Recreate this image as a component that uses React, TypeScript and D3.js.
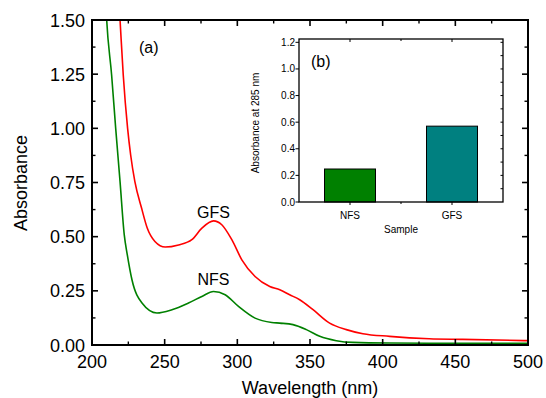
import React from 'react';
import * as d3 from 'd3';

// GFS / NFS absorbance spectra
const gfsWavelength = [218, 219.3, 221.5, 224.5, 226.6, 229.5, 234.1, 238, 243.3, 250.4, 259.6, 268.7, 275.6, 283.6, 289.3, 296.2, 303.1, 312.2, 322.3, 329.2, 336, 342.9, 352.1, 363.5, 375, 386.4, 404.8, 432, 455, 500];
const gfsAbsorbance = [1.65, 1.5, 1.246, 1.0, 0.877, 0.754, 0.632, 0.54, 0.478, 0.452, 0.462, 0.486, 0.539, 0.573, 0.555, 0.486, 0.393, 0.316, 0.27, 0.255, 0.232, 0.209, 0.163, 0.101, 0.071, 0.052, 0.04, 0.029, 0.026, 0.02];

const nfsWavelength = [209, 210.1, 213.5, 216.3, 219.3, 222.2, 224.3, 227.5, 234.4, 244.7, 255, 266.4, 275.6, 283.6, 291.6, 300.8, 312.2, 323.7, 329.2, 338.3, 347.5, 356.7, 368.1, 379.5, 404.8, 450, 500];
const nfsAbsorbance = [1.65, 1.5, 1.246, 1.0, 0.754, 0.508, 0.416, 0.301, 0.194, 0.148, 0.163, 0.194, 0.224, 0.247, 0.232, 0.178, 0.124, 0.104, 0.101, 0.094, 0.071, 0.04, 0.02, 0.012, 0.009, 0.008, 0.008];

const xTicks = [200, 250, 300, 350, 400, 450, 500];
const yTicks = [0, 0.25, 0.5, 0.75, 1.0, 1.25, 1.5];

// inset (b)
const samples = ['NFS', 'GFS'];
const at285 = [0.248, 0.57];
const sampleColors = ['#008000', '#008080'];
const insetTicks = [0, 0.2, 0.4, 0.6, 0.8, 1.0, 1.2];

const font = 'Arial, "Liberation Sans", sans-serif';

export default function App() {
  const x = d3.scaleLinear().domain([200, 500]).range([92, 528]);
  const y = d3.scaleLinear().domain([0, 1.5]).range([345, 20]);

  const line = d3.line<[number, number]>()
    .x(d => x(d[0]))
    .y(d => y(d[1]))
    .curve(d3.curveMonotoneX);

  const gfs = gfsWavelength.map((w, i) => [w, gfsAbsorbance[i]] as [number, number]);
  const nfs = nfsWavelength.map((w, i) => [w, nfsAbsorbance[i]] as [number, number]);

  const xMinor = d3.range(225, 500, 50);
  const yMinor = d3.range(0.125, 1.5, 0.25);

  // inset scales
  const ix = d3.scaleBand().domain(samples).range([299, 503]).paddingInner(0.5).paddingOuter(0.25);
  const iy = d3.scaleLinear().domain([0, 1.225]).range([202, 39]);
  const ixMid = (ix('NFS')! + ix('GFS')! + ix.bandwidth()) / 2;
  const iMinor = d3.range(0.1, 1.21, 0.1);

  return (
    <svg width={546} height={398} style={{ position: 'absolute', left: 0, top: 0, background: '#fff' }} fontFamily={font}>
      <defs>
        <clipPath id="plot">
          <rect x={92} y={20} width={436} height={325} />
        </clipPath>
      </defs>

      <g clipPath="url(#plot)" fill="none" strokeWidth={1.6}>
        <path d={line(gfs)!} stroke="#ff0000" />
        <path d={line(nfs)!} stroke="#008000" />
      </g>

      {/* main frame */}
      <rect x={92} y={20} width={436} height={325} fill="none" stroke="#000" strokeWidth={2} />

      {xTicks.map(t => (
        <g key={'x' + t}>
          <line x1={x(t)} x2={x(t)} y1={345} y2={339} stroke="#000" strokeWidth={1.6} />
          <line x1={x(t)} x2={x(t)} y1={20} y2={26} stroke="#000" strokeWidth={1.6} />
          <text x={x(t)} y={368} textAnchor="middle" fontSize={18}>{t}</text>
        </g>
      ))}
      {xMinor.map(t => (
        <g key={'xm' + t}>
          <line x1={x(t)} x2={x(t)} y1={345} y2={341.5} stroke="#000" strokeWidth={1.4} />
          <line x1={x(t)} x2={x(t)} y1={20} y2={23.5} stroke="#000" strokeWidth={1.4} />
        </g>
      ))}
      {yTicks.map(t => (
        <g key={'y' + t}>
          <line x1={92} x2={98} y1={y(t)} y2={y(t)} stroke="#000" strokeWidth={1.6} />
          <line x1={528} x2={522} y1={y(t)} y2={y(t)} stroke="#000" strokeWidth={1.6} />
          <text x={85} y={y(t) + 6.5} textAnchor="end" fontSize={18}>{t.toFixed(2)}</text>
        </g>
      ))}
      {yMinor.map(t => (
        <g key={'ym' + t}>
          <line x1={92} x2={95.5} y1={y(t)} y2={y(t)} stroke="#000" strokeWidth={1.4} />
          <line x1={528} x2={524.5} y1={y(t)} y2={y(t)} stroke="#000" strokeWidth={1.4} />
        </g>
      ))}

      <text x={310} y={394} textAnchor="middle" fontSize={18}>Wavelength (nm)</text>
      <text transform="translate(27,183) rotate(-90)" textAnchor="middle" fontSize={18}>Absorbance</text>

      <text x={139} y={53} fontSize={16}>(a)</text>
      <text x={x(283.6)} y={218} textAnchor="middle" fontSize={16}>GFS</text>
      <text x={x(283.6)} y={285} textAnchor="middle" fontSize={16}>NFS</text>

      {/* inset (b) */}
      {samples.map((s, i) => (
        <rect key={s} x={ix(s)} y={iy(at285[i])} width={ix.bandwidth()} height={iy(0) - iy(at285[i])}
          fill={sampleColors[i]} stroke="#000" strokeWidth={1} />
      ))}
      <rect x={299} y={39} width={204} height={163} fill="none" stroke="#000" strokeWidth={1.3} />
      {insetTicks.map(t => (
        <g key={'iy' + t}>
          <line x1={299} x2={295.5} y1={iy(t)} y2={iy(t)} stroke="#000" strokeWidth={1} />
          <text x={295} y={iy(t) + 3.5} textAnchor="end" fontSize={10}>{t.toFixed(1)}</text>
        </g>
      ))}
      {iMinor.map(t => (
        <line key={'im' + t} x1={503} x2={500.5} y1={iy(t)} y2={iy(t)} stroke="#000" strokeWidth={1} />
      ))}
      {samples.map(s => {
        const cx = ix(s)! + ix.bandwidth() / 2;
        return (
          <g key={'ix' + s}>
            <line x1={cx} x2={cx} y1={202} y2={205} stroke="#000" strokeWidth={1} />
            <line x1={cx} x2={cx} y1={39} y2={42} stroke="#000" strokeWidth={1} />
            <text x={cx} y={219} textAnchor="middle" fontSize={10}>{s}</text>
          </g>
        );
      })}
      <line x1={ixMid} x2={ixMid} y1={202} y2={204} stroke="#000" strokeWidth={1} />
      <line x1={ixMid} x2={ixMid} y1={39} y2={41} stroke="#000" strokeWidth={1} />
      <text x={ixMid} y={233} textAnchor="middle" fontSize={10}>Sample</text>
      <text transform="translate(259,123) rotate(-90)" textAnchor="middle" fontSize={10}>Absorbance at 285 nm</text>
      <text x={311} y={67} fontSize={16}>(b)</text>
    </svg>
  );
}
